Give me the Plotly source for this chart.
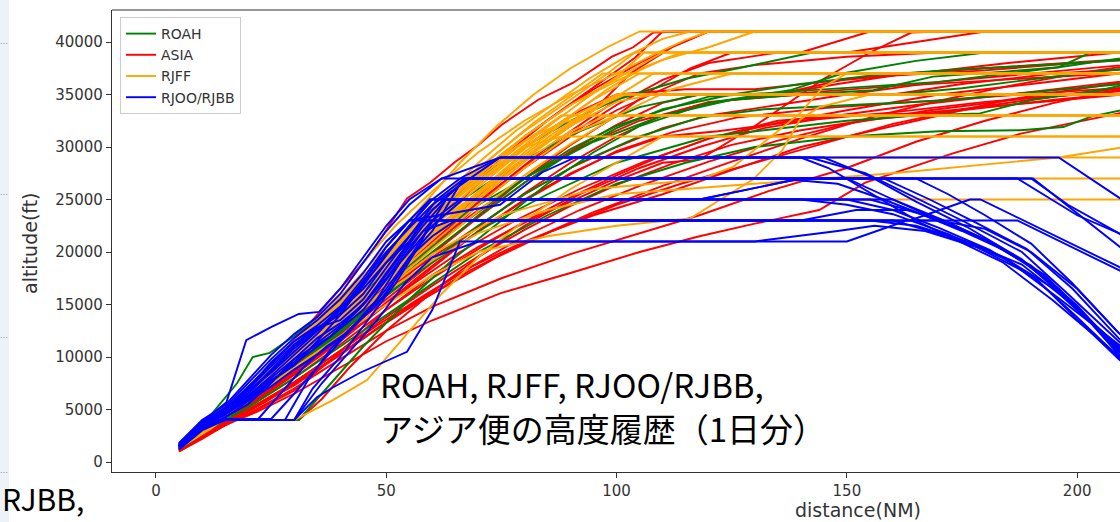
import plotly.graph_objects as go

# ---------------- data (distance NM, altitude ft) ----------------
ROAH_TRACKS = [
    [(5,1400),(11,4000),(17.6,7500),(21,10000),(24.7,10400),(30,12000),(40,15500),(50,19500),(60,23500),(70,27000),(80,30000),(90,32500),(100,34500),(115,36500),(127.5,37600),(142,38950),(150,39000),(215,39000)],
    [(5,1300),(10,3000),(15,4000),(31,4000),(38,7500),(45,11000),(55,15500),(65,19500),(75,23000),(85,26500),(95,29500),(105,32000),(120,34200),(137.6,35400),(149,37000),(165,38200),(180,39000),(215,39000)],
    [(5,1500),(12,3800),(20,6500),(30,10500),(40,14500),(50,18000),(60,21500),(70,24500),(82,27500),(95,30500),(110,33000),(125,34500),(140,35000),(155.7,35400),(168.7,36700),(185,37200),(196,37600),(203,39000),(215,39000)],
    [(5,1200),(12,3300),(20,6000),(30,9000),(40,12500),(50,16000),(60,19000),(72,22500),(85,25500),(100,28500),(120,31000),(150,32500),(165,33000),(178.9,33200),(190.4,34500),(205,35400),(215,36400)],
    [(5,1600),(12,3600),(20,6800),(30,11000),(40,15000),(50,19500),(60,23000),(70,26000),(80,28800),(92,31500),(105,33800),(118,35000),(160,35000),(175,35600),(193,36600),(209,37400),(215,37600)],
    [(5,1300),(10,2800),(20,5200),(30,8000),(40,11000),(50,14000),(60,17000),(70,20000),(85,23500),(100,26500),(115,28500),(130,30000),(150,31000),(170,31500),(187.6,31600),(197,31900),(203,32900),(215,34000)],
    [(5,1500),(12,3500),(20,6500),(30,10000),(40,13500),(50,17000),(60,20500),(70,23800),(80,27000),(90,29800),(100,32000),(110,33500),(120,34800),(135,35200),(150,35600),(170,36200),(196,37600),(215,38800)],
    [(5,1400),(12,3400),(20,6000),(30,9300),(40,12800),(50,16500),(60,20000),(70,23400),(80,26600),(90,29400),(100,31800),(110,33600),(125,35000),(140,36000),(155,36800),(175,37400),(200,38000),(215,38400)],
    [(5,1300),(12,3200),(20,5700),(30,8900),(40,12300),(50,15800),(60,19200),(70,22500),(80,25500),(92,28500),(105,31000),(118,32800),(132,33600),(150,34000),(170,34400),(190,35200),(209,36000),(215,36200)],
]

ASIA_TRACKS = [
    [(5,1300),(12,3500),(20,6500),(28,10500),(34,13500),(40,16500),(46,19500),(50,22100),(54.5,25100),(59.5,26600),(65,28600),(70,30200),(75,32100),(83,34500),(90.5,36100),(99,38600),(103.6,39500),(108,40900),(114,41000),(215,41000)],
    [(5,1000),(10,2200),(15,3500),(22,4800),(30,6500),(40,9000),(50,11500),(60,13500),(75,16100),(90,18000),(105,20000),(118,21500),(130,22700),(144,24000),(154,26600),(173,29400),(188,31300),(209,33200),(215,33800)],
    [(5,1100),(12,2800),(20,4600),(30,7000),(40,9800),(50,12500),(60,14800),(75,17500),(90,19800),(105,21800),(118,23500),(133,25800),(150,28000),(165,30500),(180,32500),(195,34200),(209,35500),(215,36000)],
    [(5,1200),(10,2600),(15,3800),(20,4500),(30,6800),(40,10500),(50,14500),(60,17800),(70,20500),(80,22800),(90,24800),(100,26800),(110,28500),(118,28800),(130,32000),(145,36500),(155,39000),(164,40900),(170,41000),(215,41000)],
    [(5,1400),(12,3300),(20,6000),(30,9500),(40,13000),(50,16500),(60,19500),(70,22500),(80,25500),(90,28000),(100,30000),(110,31800),(120,33000),(135,34000),(150,35000),(170,36200),(190,37000),(209,37800),(215,38000)],
    [(5,1200),(12,3000),(20,5500),(30,8800),(40,12500),(50,16500),(60,20500),(70,24500),(80,28000),(90,31000),(100,33500),(110,35500),(118,37000),(130,37800),(150,38600),(170,39000),(215,39000)],
    [(5,1300),(11,3200),(18,5500),(26,8500),(35,12000),(45,16000),(55,20500),(65,25000),(75,29000),(85,32500),(95,35500),(105,38000),(112,39500),(120,41000),(215,41000)],
    [(5,1500),(12,3600),(20,6500),(30,10000),(40,13800),(50,18000),(60,22500),(70,26500),(80,30000),(90,33000),(100,35000),(115,35500),(130,35500),(145,36200),(160,36800),(180,37300),(200,38000),(215,38400)],
    [(5,1100),(10,2500),(18,4500),(28,7000),(38,10000),(48,13000),(58,15800),(68,18500),(80,21000),(95,23500),(110,25500),(125,27800),(140,30000),(155,31500),(170,33000),(185,34500),(200,35500),(215,36500)],
    [(5,1300),(12,3100),(20,5300),(30,8300),(40,11500),(50,15000),(60,18500),(70,22000),(80,25000),(90,27500),(100,29500),(110,31000),(122,31500),(140,32500),(160,33300),(180,34300),(200,35000),(215,35500)],
    [(5,1200),(10,2900),(17,5000),(25,7500),(35,11000),(45,14800),(55,18800),(65,22800),(75,26500),(85,30000),(95,33000),(102,35000),(118,35000),(135,35000),(150,36500),(165,37000),(185,38000),(209,39000),(215,39000)],
    [(5,1400),(12,3400),(20,6200),(30,9800),(40,13500),(50,17500),(60,21500),(68,24500),(76,27500),(85,30500),(95,33500),(103,37000),(112,39500),(120,41000),(215,41000)],
    [(5,1000),(10,2300),(16,3800),(24,5800),(34,8500),(44,11500),(54,14500),(64,17000),(74,19500),(86,22000),(100,24500),(114,26500),(130,28500),(146,30500),(160,32200),(175,33600),(195,34800),(215,35600)],
    [(5,1250),(12,3200),(20,5800),(30,9200),(40,12800),(50,16800),(60,20800),(70,24000),(80,27000),(92,30000),(105,32500),(118,34000),(130,34800),(145,35300),(160,35800),(180,36300),(200,36800),(215,37200)],
    [(5,1350),(12,3400),(20,6100),(30,9600),(40,13400),(50,17300),(60,21000),(70,24800),(80,28200),(90,31200),(100,34000),(110,36400),(120,38000),(135,39000),(150,39000),(165,40000),(180,41000),(215,41000)],
    [(5,1150),(11,2800),(18,4800),(27,7600),(36,10500),(46,13800),(56,17000),(66,20000),(78,23000),(92,26000),(106,28600),(120,30800),(135,32500),(150,33000),(165,33200),(185,34000),(209,35000),(215,35200)],
    [(5,1450),(12,3500),(20,6300),(30,10200),(40,14000),(48,17500),(56,21500),(64,25000),(72,28200),(80,31000),(88,33500),(96,36000),(104,38500),(110,41000),(215,41000)],
    [(5,1250),(10,2700),(15,4000),(31,4000),(36,6000),(42,9000),(50,12500),(60,16200),(70,19500),(80,22500),(92,25500),(105,28000),(118,30000),(132,31800),(148,33000),(165,34000),(185,35000),(209,36200),(215,36500)],
    [(5,1200),(12,3000),(20,5200),(30,8000),(40,11200),(50,14500),(60,17500),(70,20300),(80,22900),(90,25200),(100,27300),(110,29200),(120,30800),(135,32300),(150,33500),(170,35000),(190,36000),(209,37000),(215,37200)],
    [(5,1100),(12,2900),(20,5000),(30,7600),(40,10600),(50,13800),(60,16800),(70,19600),(80,22100),(90,24400),(100,26400),(112,28400),(125,30200),(140,31600),(155,32600),(175,33500),(195,34500),(215,35300)],
    [(5,1300),(12,3200),(20,5600),(30,8700),(40,12000),(50,15500),(60,19000),(70,22400),(80,25600),(90,28500),(100,31000),(110,33000),(120,34300),(140,35000),(160,35000),(175,36000),(195,37000),(215,37500)],
    [(5,1250),(12,3100),(20,5400),(30,8400),(40,11700),(50,15200),(60,18700),(70,22000),(80,24900),(90,27400),(100,29600),(112,31400),(126,32800),(145,33700),(165,34300),(190,35100),(215,35800)],
    [(5,1150),(12,2900),(20,4900),(30,7300),(40,10200),(50,13300),(60,16300),(70,19000),(80,21500),(92,24000),(105,26300),(120,28600),(135,30600),(150,32200),(168,33500),(188,34600),(209,35600),(215,35800)],
    [(5,1350),(12,3300),(20,5900),(30,9100),(40,12600),(50,16200),(60,19800),(70,23300),(80,26600),(90,29600),(100,32100),(110,34200),(118,35000),(135,35000),(148,36000),(163,37000),(185,37600),(209,38300),(215,38500)],
    [(5,1200),(12,3050),(20,5400),(30,8600),(40,12200),(50,16000),(60,19800),(70,23500),(80,27000),(90,30200),(100,33000),(108,35500),(116,37500),(125,39000),(140,39000),(155,41000),(215,41000)],
    [(5,1050),(10,2400),(18,4300),(28,6900),(38,9700),(48,12700),(58,15500),(68,18200),(80,20900),(95,23800),(110,26300),(125,28600),(140,30800),(155,32800),(170,34400),(185,35800),(200,37000),(215,38000)],
]

RJFF_TRACKS = [
    [(5,1500),(12,3800),(20,7000),(30,11500),(38,14800),(45,19000),(52,22500),(60,25800),(70,29500),(80,32500),(90,35000),(100,37000),(108,38800),(115,40200),(120,41000),(215,41000)],
    [(5,1400),(12,3600),(20,6600),(30,10800),(40,14800),(50,19500),(60,24000),(70,28000),(80,31500),(90,34500),(98,37000),(104,39000),(215,39000)],
    [(5,1600),(11,3500),(18,6000),(26,9000),(35,12500),(45,16800),(55,21000),(65,25000),(75,28500),(85,31500),(95,34500),(105,37000),(215,37000)],
    [(5,1300),(12,3300),(20,6200),(30,10000),(40,13800),(50,18000),(60,22000),(70,25500),(80,29000),(90,32000),(100,35000),(215,35000)],
    [(5,1500),(12,3500),(20,6400),(30,10300),(40,14500),(50,19000),(60,23200),(70,27000),(80,30500),(88,33000),(215,33000)],
    [(5,1700),(10,3500),(15,4000),(30,4000),(38.4,5900),(45.8,7800),(48.6,9200),(55,12500),(62,16000),(70,19500),(80,23000),(90,26000),(100,28500),(110,31000),(215,31000)],
    [(5,1400),(12,3500),(20,6500),(30,10500),(40,14200),(50,18500),(60,22500),(68,25000),(75,27000),(215,27000)],
    [(5,1500),(12,3700),(20,6800),(30,11000),(40,15000),(50,19800),(57,23000),(63,25000),(215,25000)],
    [(5,1600),(12,3900),(20,7000),(30,11200),(40,15500),(50,20000),(60,24500),(70,28000),(80,29000),(215,29000)],
    [(5,1300),(12,3200),(20,5800),(30,9000),(40,12000),(50,15000),(60,17800),(70,20000),(85,21500),(100,22500),(116,23200),(129.6,26900),(136,29700),(139.8,32600),(144,33800),(155,35000),(215,35000)],
    [(5,1400),(12,3400),(20,6000),(30,9500),(40,13000),(50,16500),(60,19800),(75,23500),(95,26000),(118,26900),(125.3,28100),(132.7,30700),(139.8,33200),(144.8,35700),(150,37000),(215,37000)],
    [(5,1500),(12,3600),(20,6500),(30,10200),(40,14000),(50,18500),(60,23000),(70,27200),(80,31000),(90,34000),(100,36500),(110,39000),(215,39000)],
    [(5,1450),(12,3500),(20,6300),(30,10000),(40,13600),(50,17600),(60,21600),(70,25500),(80,29000),(90,32200),(100,34800),(108,37000),(215,37000)],
    [(5,1550),(12,3700),(20,6700),(30,10800),(40,14600),(50,18800),(60,22800),(70,26500),(80,30000),(88,31000),(215,31000)],
    [(5,1350),(12,3400),(20,6100),(30,9700),(40,13200),(50,17000),(60,20800),(70,24500),(80,28000),(90,31200),(100,33000),(215,33000)],
    [(5,1650),(12,3900),(20,7100),(30,11400),(40,15700),(50,20500),(58,24500),(66,28500),(74,32000),(82,35000),(90,37500),(98,39500),(105,41000),(215,41000)],
    [(5,1400),(12,3500),(20,6400),(30,10100),(40,13900),(50,17900),(60,21900),(70,25800),(80,29500),(90,32800),(100,35000),(215,35000)],
    [(5,1500),(12,3500),(20,6200),(30,9600),(40,13000),(50,16200),(60,19200),(70,21800),(85,24000),(100,25500),(130,26500),(160,27500),(196,29000),(209,29900),(215,30200)],
    [(5,1550),(12,3800),(20,6900),(30,11000),(40,15200),(48,18800),(55,22000),(62,25200),(70,28500),(78,31500),(86,34000),(94,36500),(102,38600),(110,40300),(116,41000),(215,41000)],
    [(5,1450),(12,3600),(20,6600),(30,10600),(40,14400),(50,18700),(60,22700),(68,25800),(76,28800),(84,31600),(92,34200),(100,36700),(106,39000),(215,39000)],
    [(5,1600),(12,3800),(20,6800),(30,10900),(40,15000),(50,19300),(58,22800),(66,26200),(74,29400),(82,32300),(90,34800),(97,37000),(215,37000)],
    [(5,1500),(12,3500),(20,6300),(30,10000),(40,13700),(50,17800),(60,21800),(70,25700),(78,28600),(86,31200),(94,33500),(102,35000),(215,35000)],
    [(5,1400),(12,3400),(20,6100),(30,9800),(40,13300),(50,17200),(60,21200),(70,25000),(80,28600),(90,31500),(98,33000),(215,33000)],
    [(5,1650),(12,3800),(20,6900),(30,11100),(40,15300),(50,19600),(60,23800),(70,27600),(80,31000),(90,34000),(100,36300),(110,38300),(120,39500),(130,41000),(215,41000)],
    [(5,1350),(12,3300),(20,6000),(30,9400),(40,12900),(50,16600),(60,20300),(70,23900),(80,27300),(90,30300),(100,33000),(112,35500),(125,37000),(215,37000)],
    [(5,1500),(12,3600),(20,6500),(30,10400),(40,14300),(50,18300),(60,22300),(70,26200),(80,29800),(90,33000),(98,35500),(106,37600),(114,39000),(215,39000)],
    [(5,1450),(12,3500),(20,6200),(30,9900),(40,13500),(50,17400),(60,21400),(70,25200),(80,28800),(90,32000),(100,34300),(108,35000),(215,35000)],
    [(5,1600),(12,3700),(20,6700),(30,10700),(40,14800),(50,19100),(60,23400),(70,27400),(80,30600),(88,32300),(95,33000),(215,33000)],
]

RJOO_RJBB_TRACKS = [
    [(5,1600),(10,3800),(15.3,5700),(19.6,11600),(25.2,12900),(31,14100),(35.4,14300),(40,16500),(45,19500),(50,22500),(55,25000),(62,27000),(74.7,29000),(142,29000),(154,27500),(162,25800),(175,23000),(188,20000),(198,16000),(209,11500),(215,9000)],
    [(5,1500),(10,3500),(15,4000),(30,4000),(35,6200),(38.4,7100),(44.3,8500),(50.2,9700),(54.5,10500),(60,14500),(66,21000),(150,21000),(163,23000),(187,23000),(209,18300),(215,17000)],
    [(5,1800),(10,3900),(15,4000),(30,4000),(34,7000),(40,10000),(46,13500),(52,17000),(57,20500),(60,23000),(155,23000),(165,22500),(176,21000),(188,18800),(199,15000),(209,10800),(215,8500)],
    [(5,1400),(9,3000),(14,4400),(20,6000),(25,7800),(30,9200),(35,11500),(40,14000),(45,17000),(50,20500),(55,23000),(59.5,25000),(160,25000),(170,23200),(180,21200),(190,18600),(200,14800),(209,10500),(215,8000)],
    [(5,1500),(10,3600),(15,5000),(20,6800),(25,8500),(30,10500),(35,12500),(40,14500),(45,16500),(50,19000),(55,21500),(60,24000),(67.5,27000),(187,27000),(200,23500),(209,21800),(215,20500)],
    [(5,1700),(10,3700),(15,4800),(20,6200),(25,8000),(30,9800),(38,12000),(45,14500),(52,18500),(60,22500),(66.6,25000),(140,25000),(150,24500),(160,23600),(172,21700),(185,19200),(196,15600),(209,11200),(215,9000)],
    [(5,1300),(10,3200),(15,4000),(22,4000),(27,6500),(32,9000),(37,11000),(42,12500),(48,15500),(53,19000),(58,22000),(64,23000),(140,23000),(152,24000),(163,24000),(171,23000),(182,20800),(193,17800),(202,13800),(209,10200),(215,8000)],
    [(5,1600),(10,3500),(15,4500),(20,7000),(25,9500),(30,11500),(35,12800),(40,13500),(45,15500),(50,18500),(56,22000),(61,25000),(67,27000),(150,27000),(160,25000),(170,23000),(181,21000),(192,18000),(201,14200),(209,10800),(215,8500)],
    [(5,1500),(10,3400),(16,4800),(22,6500),(28,8800),(34,11000),(40,13000),(46,15500),(52,19000),(58,22500),(63,25000),(118,25000),(140,27000),(158,27000),(168,25000),(178,22800),(189,20300),(199,16500),(209,11800),(215,9500)],
    [(5,1200),(10,3000),(15,4000),(30,4000),(36,7500),(42,10500),(48,13500),(54,17000),(60,19500),(70,21000),(130,21000),(148,22000),(156,22500),(167,22000),(178,20500),(190,17800),(200,13800),(209,10000),(215,7500)],
    [(5,1700),(10,3800),(15,5200),(20,7500),(25,9800),(30,11800),(35,13500),(40,15500),(45,18000),(50,21000),(55,23000),(74.7,24500),(83.9,27600),(91,29000),(145,29000),(155,27200),(165,24800),(176,22400),(188,19300),(198,15400),(209,11000),(215,8800)],
    [(5,1400),(10,3300),(15,4600),(20,6500),(25,8600),(30,10800),(35,12500),(40,14200),(45,16800),(50,19800),(55,22500),(59.5,25000),(118,25000),(140,27000),(190,27000),(198,24500),(209,21800),(215,20000)],
    [(5,1500),(10,3600),(15,4800),(20,6600),(25,8800),(30,11000),(36,13000),(42,15500),(48,18500),(54,22000),(60,25000),(66,27000),(74.7,29000),(196,29000),(209,25200),(215,23500)],
    [(5,1600),(10,3700),(15,5000),(20,7200),(25,9400),(30,11500),(35,13000),(40,14800),(45,17500),(50,20500),(55,23000),(160,23000),(172,21500),(184,19500),(195,16500),(203,13200),(209,10300),(215,8000)],
    [(5,1300),(10,3100),(15,4200),(20,5800),(25,7200),(30,8800),(35,10200),(40,11800),(45,13800),(50,16000),(55,19500),(60,21500),(65,23000),(163.7,23000),(176.7,25000),(179,25000),(209,18600),(215,17000)],
    [(5,1800),(10,4000),(15,5400),(20,7800),(25,10200),(30,12200),(35,13800),(40,16000),(45,19000),(50,22000),(55,24500),(62,27000),(190.4,27000),(209,20500),(215,18500)],
    [(5,1500),(10,3500),(15,4500),(20,6000),(26,8000),(32,10000),(38,12000),(44,14500),(50,17500),(55,20500),(60,23000),(66,25000),(150,25000),(160,24000),(170,22300),(181,20200),(191,17500),(200,13600),(209,9800),(215,7500)],
    [(5,1400),(10,3300),(15,4100),(25,4100),(30,6500),(35,9000),(40,11500),(45,13800),(50,16500),(55,19500),(60,22000),(66.7,27000),(135,27000),(148,26500),(158,25000),(168,23300),(179,21400),(190,18700),(200,14900),(209,10600),(215,8300)],
    [(5,1600),(10,3500),(15,4700),(20,6300),(25,8200),(30,10200),(35,12200),(40,14500),(45,17200),(50,20000),(55,22300),(60,24500),(74.7,29000),(140,29000),(146,28000),(165.9,22800),(183.9,19000),(194.7,15400),(209.3,10000),(215,8000)],
    [(5,1700),(10,3600),(15,4900),(20,6900),(25,9100),(30,11200),(35,12800),(40,14000),(45,16000),(50,19000),(55,21000),(58,23000),(170,23000),(180,22200),(190,20000),(200,16500),(209,12300),(215,10000)],
    [(5,1500),(10,3400),(15,4000),(28,4000),(33,7800),(38,10800),(43,13000),(48,15000),(53,18000),(58,21500),(63,25000),(155,25000),(165,23800),(175,22000),(186,19800),(196,16500),(204,13000),(209,11000),(215,9000)],
    [(5,1300),(10,3200),(15,4300),(20,5500),(25,7500),(30,9800),(35,11800),(40,13200),(45,15000),(50,18000),(55,21000),(60,24000),(67.5,27000),(165,27000),(172,25500),(180,23500),(190,20800),(199,17000),(209,12300),(215,10000)],
]

SERIES_NAMES = ["ROAH", "ASIA", "RJFF", "RJOO/RJBB"]
SERIES_COLORS = ["#008000", "#ff0000", "#ffa500", "#0000ff"]
X_TICKS = [0, 50, 100, 150, 200]
Y_TICKS = [0, 5000, 10000, 15000, 20000, 25000, 30000, 35000, 40000]

# ---------------- figure ----------------
W, H = 1120, 522
ML, MR, MT, MB = 112, 0, 10, 50
PW, PH = W - ML - MR, H - MT - MB


def px(x):
    return (x - ML) / PW


def py(y):
    return (H - MB - y) / PH


fig = go.Figure()

# legend proxies (order as in the reference legend)
for name, col in zip(SERIES_NAMES, SERIES_COLORS):
    fig.add_trace(go.Scatter(x=[None], y=[None], mode="lines", name=name,
                             line=dict(color=col, width=1.9), showlegend=True))


def add_group(tracks, name, col):
    xs, ys = [], []
    for tr in tracks:
        for d, a in tr:
            xs.append(d)
            ys.append(a)
        xs.append(None)
        ys.append(None)
    fig.add_trace(go.Scatter(x=xs, y=ys, mode="lines", name=name, showlegend=False,
                             line=dict(color=col, width=1.9), hoverinfo="skip",
                             connectgaps=False))


add_group(ASIA_TRACKS, "ASIA", SERIES_COLORS[1])
add_group(ROAH_TRACKS, "ROAH", SERIES_COLORS[0])
add_group(RJFF_TRACKS, "RJFF", SERIES_COLORS[2])
add_group(RJOO_RJBB_TRACKS, "RJOO/RJBB", SERIES_COLORS[3])

tick_font = dict(family="DejaVu Sans", size=15, color="#333333")

fig.update_layout(
    width=W, height=H,
    margin=dict(l=ML, r=MR, t=MT, b=MB, pad=0),
    paper_bgcolor="white", plot_bgcolor="white",
    showlegend=True,
    legend=dict(x=px(120), y=py(17), xanchor="left", yanchor="top",
                bgcolor="rgba(255,255,255,0.85)", bordercolor="#cccccc", borderwidth=1,
                font=dict(family="DejaVu Sans", size=14, color="#333333"),
                traceorder="normal"),
    xaxis=dict(range=[-9.55, 209.3], tickmode="array", tickvals=X_TICKS,
               ticktext=[str(v) for v in X_TICKS], showgrid=False, zeroline=False,
               showline=True, linecolor="#333333", linewidth=1.2, mirror=False,
               ticks="outside", ticklen=5, tickcolor="#333333", tickfont=tick_font),
    yaxis=dict(range=[-952, 43048], tickmode="array", tickvals=Y_TICKS,
               ticktext=[str(v) for v in Y_TICKS], showgrid=False, zeroline=False,
               showline=True, linecolor="#333333", linewidth=1.2, mirror=False,
               ticks="outside", ticklen=5, tickcolor="#333333", tickfont=tick_font),
)

# top spine
fig.add_shape(type="line", xref="paper", yref="paper", x0=0, x1=1, y0=1, y1=1,
              line=dict(color="#333333", width=1.2))
# slide strip on the far left
fig.add_shape(type="rect", xref="paper", yref="paper", x0=px(0), x1=px(9),
              y0=py(H), y1=py(0), fillcolor="#edf2f9", line=dict(width=0), layer="below")

# axis titles
fig.add_annotation(text="altitude(ft)", xref="paper", yref="paper", x=px(30), y=py(243),
                   textangle=-90, showarrow=False, xanchor="center", yanchor="middle",
                   font=dict(family="DejaVu Sans", size=19, color="#333333"))
fig.add_annotation(text="distance(NM)", xref="paper", yref="paper", x=px(858), y=py(510),
                   showarrow=False, xanchor="center", yanchor="middle",
                   font=dict(family="DejaVu Sans", size=19, color="#333333"))

# slide overlay texts
jp_font = dict(family="Noto Sans CJK JP", size=33, color="black")
fig.add_annotation(text="ROAH, RJFF, RJOO/RJBB,", xref="paper", yref="paper",
                   x=px(378), y=py(384), showarrow=False, xanchor="left", yanchor="middle",
                   font=jp_font)
fig.add_annotation(text="アジア便の高度履歴（1日分）", xref="paper", yref="paper",
                   x=px(378), y=py(428), showarrow=False, xanchor="left", yanchor="middle",
                   font=jp_font)
fig.add_annotation(text="RJBB,", xref="paper", yref="paper",
                   x=px(0), y=py(H), showarrow=False, xanchor="left", yanchor="bottom",
                   font=dict(family="Noto Sans CJK JP", size=30, color="black"))
for yy in [42, 192, 335, 470]:
    fig.add_annotation(text="…", xref="paper", yref="paper", x=px(4), y=py(yy),
                       showarrow=False, xanchor="center", yanchor="middle",
                       font=dict(family="DejaVu Sans", size=8, color="#888888"))

fig.write_html("out.html")
